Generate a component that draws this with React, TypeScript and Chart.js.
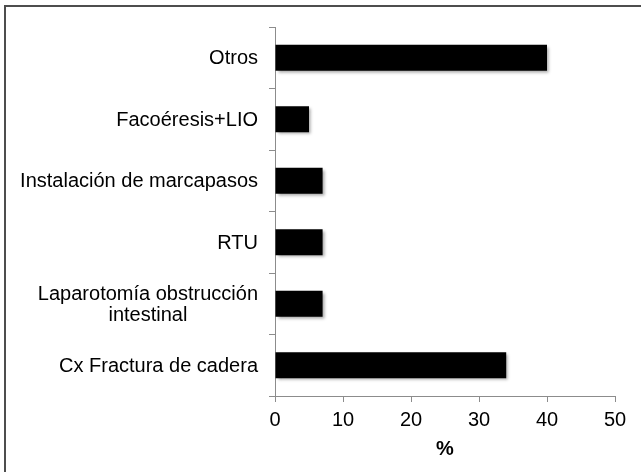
import React, { useEffect, useRef } from "react";
import { Chart, registerables } from "chart.js";

Chart.register(...registerables);

const categories: (string | string[])[] = [
  "Otros",
  "Facoéresis+LIO",
  "Instalación de marcapasos",
  "RTU",
  ["Laparotomía obstrucción", "intestinal"],
  "Cx Fractura de cadera",
];
const values: number[] = [40, 5, 7, 7, 7, 34];
const xTicks: number[] = [0, 10, 20, 30, 40, 50];
const axisTitle = "%";

const FONT = "'Liberation Sans', Arial, sans-serif";
const FS = 20;

const framePlugin = {
  id: "frame",
  beforeDraw(chart: any) {
    const ctx = chart.ctx;
    ctx.save();
    ctx.fillStyle = "#ffffff";
    ctx.fillRect(0, 0, chart.width, chart.height);
    ctx.strokeStyle = "#4d4d4d";
    ctx.lineWidth = 2;
    ctx.beginPath();
    ctx.moveTo(5, chart.height + 2);
    ctx.lineTo(5, 6);
    ctx.lineTo(chart.width + 2, 6);
    ctx.stroke();
    ctx.restore();
  },
  beforeDatasetsDraw(chart: any) {
    const ctx = chart.ctx;
    ctx.save();
    ctx.shadowColor = "rgba(0,0,0,0.35)";
    ctx.shadowBlur = 3;
    ctx.shadowOffsetX = 2;
    ctx.shadowOffsetY = 2;
  },
  afterDatasetsDraw(chart: any) {
    chart.ctx.restore();
  },
  afterDraw(chart: any) {
    const ctx = chart.ctx;
    const yScale = chart.scales.y;
    ctx.save();
    ctx.fillStyle = "#000000";
    ctx.font = `${FS}px ${FONT}`;
    ctx.textAlign = "center";
    ctx.textBaseline = "middle";
    const rightEdge = yScale.right - 17;
    const lh = 21;
    categories.forEach((lab, i) => {
      const lines = Array.isArray(lab) ? lab : [lab];
      const maxW = Math.max(...lines.map((l) => ctx.measureText(l).width));
      const cx = rightEdge - maxW / 2;
      const cy = yScale.getPixelForValue(i) + 1;
      lines.forEach((l, j) => {
        ctx.fillText(l, cx, cy + (j - (lines.length - 1) / 2) * lh);
      });
    });
    ctx.restore();
  },
};

export default function App() {
  const canvasRef = useRef<HTMLCanvasElement | null>(null);

  useEffect(() => {
    document.body.style.margin = "0";
    const canvas = canvasRef.current;
    if (!canvas) return;
    const chart = new Chart(canvas, {
      type: "bar",
      data: {
        labels: categories,
        datasets: [
          {
            data: values,
            backgroundColor: "#000000",
            borderWidth: 0,
            barPercentage: 0.42,
            categoryPercentage: 1,
          },
        ],
      },
      options: {
        indexAxis: "y",
        responsive: false,
        animation: false,
        devicePixelRatio: 1,
        layout: { padding: { left: 0, top: 27, right: 26, bottom: 0 } },
        plugins: {
          legend: { display: false },
          tooltip: { enabled: false },
        },
        scales: {
          x: {
            min: 0,
            max: 50,
            afterBuildTicks: (scale: any) => {
              scale.ticks = xTicks.map((v) => ({ value: v }));
            },
            afterFit: (scale: any) => {
              scale.height = 76;
            },
            border: { display: true, color: "#8c8c8c", width: 1 },
            grid: {
              display: true,
              drawOnChartArea: false,
              drawTicks: true,
              tickLength: 6,
              color: "#8c8c8c",
            },
            ticks: {
              color: "#000000",
              font: { family: FONT, size: FS },
              padding: 6,
            },
            title: {
              display: true,
              text: axisTitle,
              color: "#000000",
              font: { family: FONT, size: FS, weight: "bold" },
              padding: { top: 4, bottom: 11 },
            },
          },
          y: {
            afterFit: (scale: any) => {
              scale.width = 275;
            },
            border: { display: true, color: "#8c8c8c", width: 1 },
            grid: {
              display: true,
              offset: true,
              drawOnChartArea: false,
              drawTicks: true,
              tickLength: 6,
              color: "#8c8c8c",
            },
            ticks: {
              color: "rgba(0,0,0,0)",
              font: { family: FONT, size: FS },
            },
          },
        },
      },
      plugins: [framePlugin],
    } as any);
    return () => chart.destroy();
  }, []);

  return (
    <div style={{ width: 641, height: 472 }}>
      <canvas ref={canvasRef} width={641} height={472} style={{ display: "block" }} />
    </div>
  );
}
